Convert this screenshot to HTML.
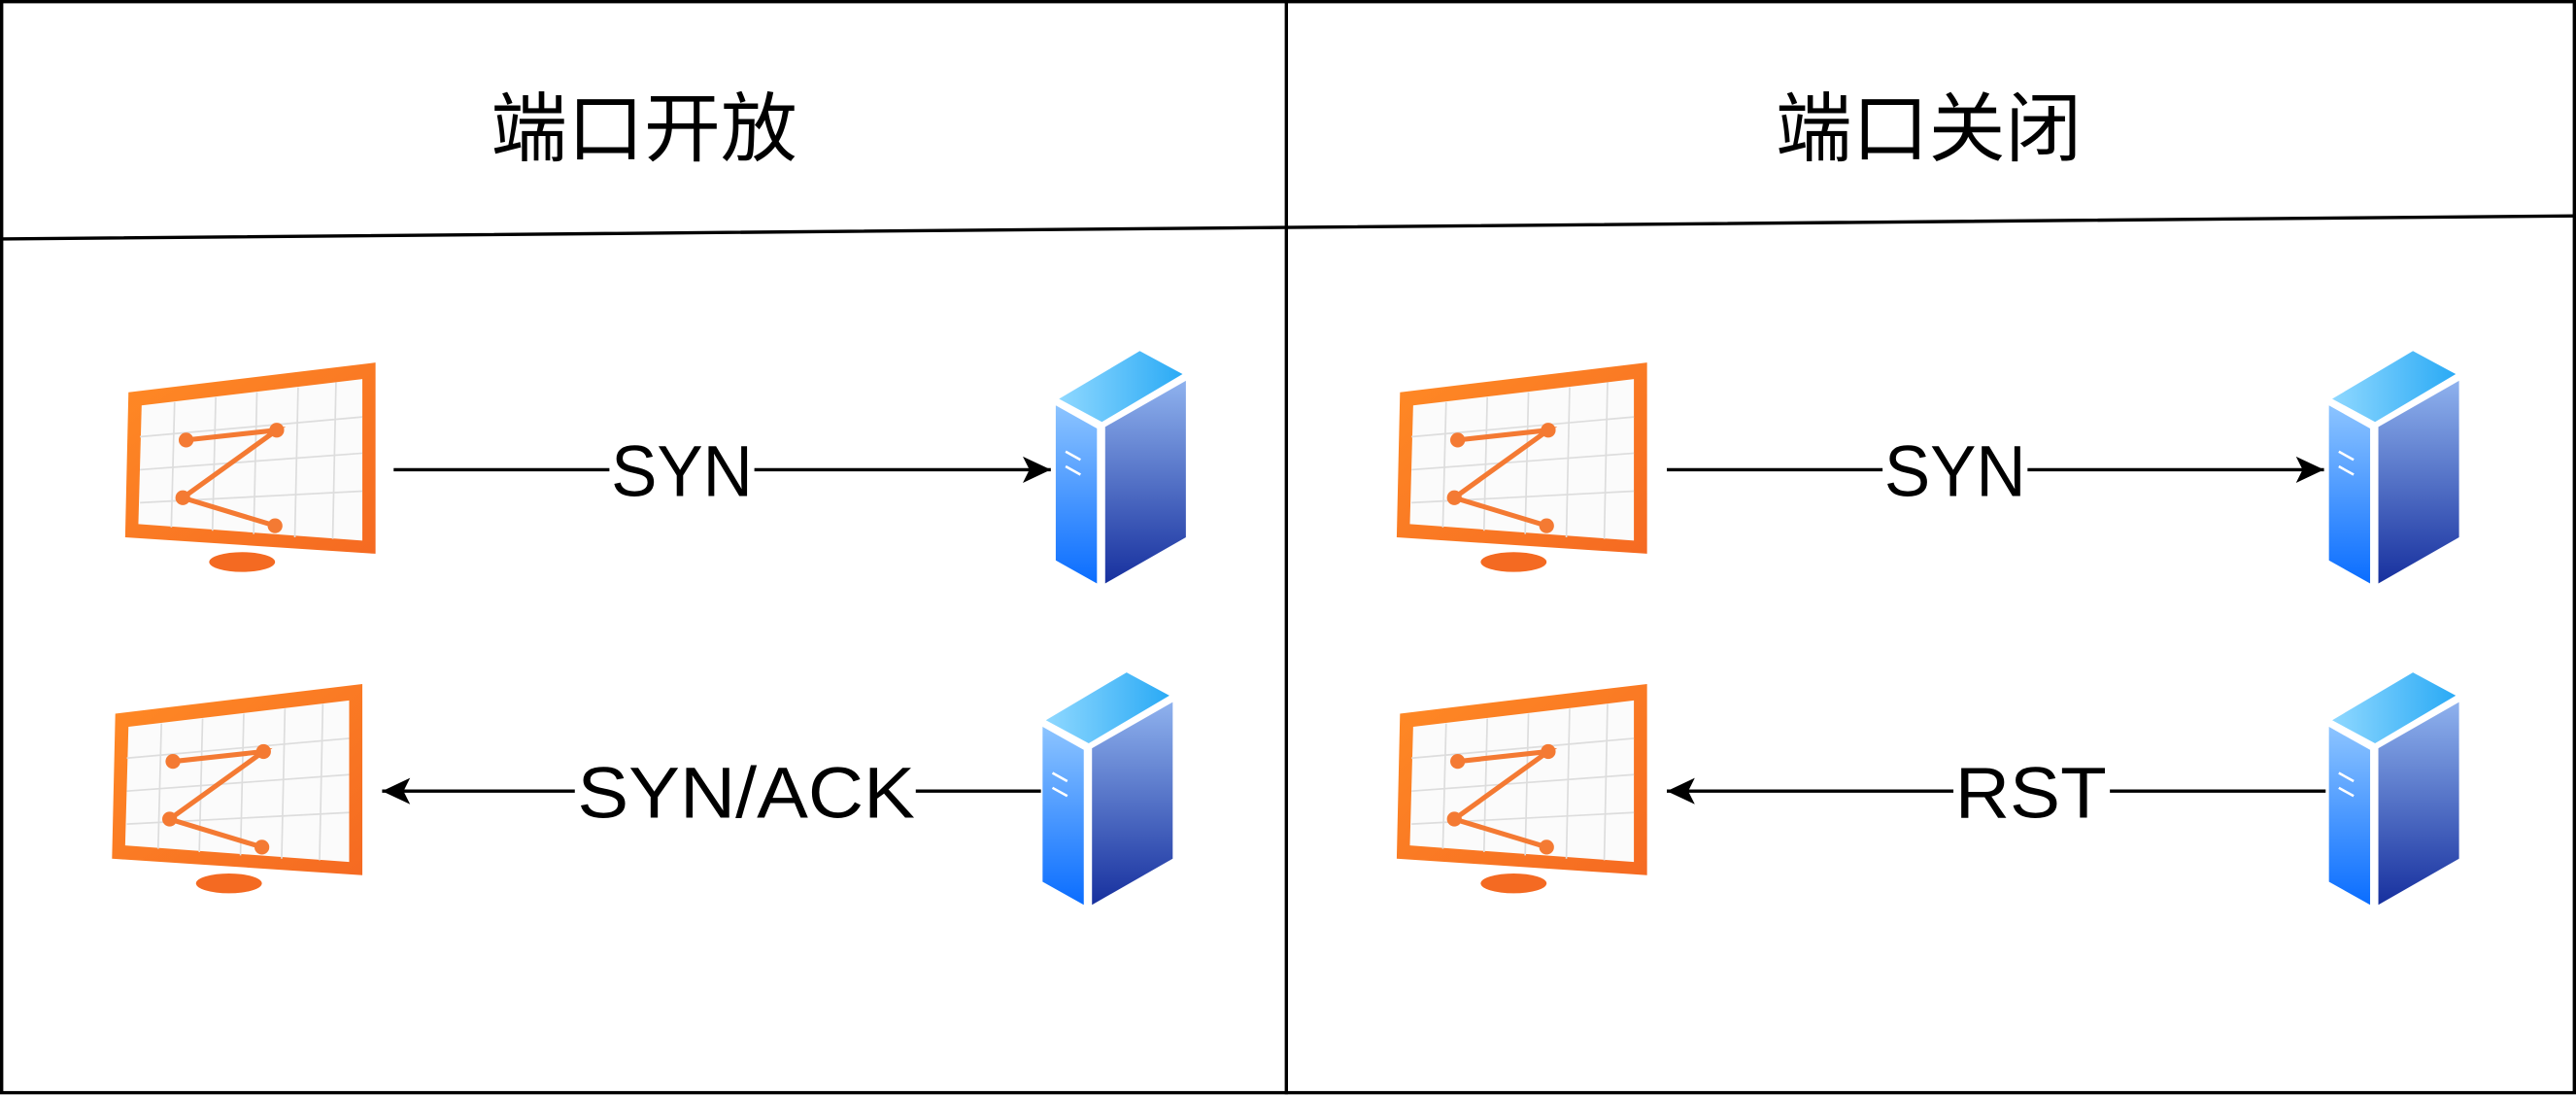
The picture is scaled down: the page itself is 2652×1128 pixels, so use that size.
<!DOCTYPE html>
<html><head><meta charset="utf-8"><style>
html,body{margin:0;padding:0;background:#fff;}
svg{display:block;}
text{font-family:"Liberation Sans","Noto Sans CJK SC",sans-serif;}
</style></head><body>
<svg width="2652" height="1128" viewBox="0 0 1564 665" preserveAspectRatio="none" xmlns="http://www.w3.org/2000/svg">
<defs>
<linearGradient id="gl" x1="0" y1="0" x2="0" y2="1"><stop offset="0" stop-color="#8cc4ff"/><stop offset="1" stop-color="#0a6dff"/></linearGradient>
<linearGradient id="gr" x1="0" y1="0" x2="0" y2="1"><stop offset="0" stop-color="#8fb2ee"/><stop offset="1" stop-color="#17309e"/></linearGradient>
<linearGradient id="gt" x1="0" y1="0" x2="1" y2="0"><stop offset="0" stop-color="#8fd8ff"/><stop offset="1" stop-color="#2aaaf5"/></linearGradient>
<linearGradient id="go" x1="0" y1="0" x2="1" y2="1"><stop offset="0" stop-color="#ff8a25"/><stop offset="1" stop-color="#f56a22"/></linearGradient>
<g id="mon">
<polygon points="2,18 152,0 152,116 0,106" fill="url(#go)"/>
<polygon points="10,26 144,10 144,108 8,98" fill="#fbfbfb"/>
<g stroke="#ddd" stroke-width="1" fill="none">
<path d="M30,24 L28,100 M55,21 L53,102 M80,18 L78,104 M105,15 L103,106 M128,12 L126,107"/>
<path d="M9,45 L144,33 M9,65 L144,55 M9,85 L144,78"/>
</g>
<polyline points="37,47 92,41 35,82 91,99" fill="none" stroke="#f47a33" stroke-width="3"/>
<g fill="#f47a33"><circle cx="37" cy="47" r="4.5"/><circle cx="92" cy="41" r="4.5"/><circle cx="35" cy="82" r="4.5"/><circle cx="91" cy="99" r="4.5"/></g>
<ellipse cx="71" cy="121" rx="20" ry="6" fill="#f46a22"/>
</g>
<g id="srv">
<polygon points="3,30 52,1 78,15 29,44" fill="url(#gt)"/>
<polygon points="1,34 26,48 26,142 1,128" fill="url(#gl)"/>
<polygon points="31,47 80,19 80,114 31,142" fill="url(#gr)"/>
<path d="M7,62 L16,67 M7,71 L16,76" stroke="#fff" stroke-width="1.5"/>
</g>
<marker id="ah" markerWidth="20" markerHeight="20" refX="19" refY="10" orient="auto" markerUnits="userSpaceOnUse"><path d="M2,2 L19,10 L2,18 L6,10 Z" fill="#000"/></marker>
</defs>
<rect x="1" y="1" width="1562" height="662" fill="none" stroke="#000" stroke-width="2"/>
<line x1="781" y1="0" x2="781" y2="664" stroke="#000" stroke-width="2"/>
<polyline points="0,145 781,138 1564,131" fill="none" stroke="#000" stroke-width="2"/>
<text x="391" y="94" font-size="46" text-anchor="middle" textLength="186" lengthAdjust="spacingAndGlyphs">端口开放</text>
<text x="1171" y="94" font-size="46" text-anchor="middle" textLength="186" lengthAdjust="spacingAndGlyphs">端口关闭</text>

<use href="#mon" x="76" y="220"/>
<use href="#mon" x="68" y="415"/>
<use href="#mon" x="848" y="220"/>
<use href="#mon" x="848" y="415"/>
<use href="#srv" x="640" y="212"/>
<use href="#srv" x="632" y="407"/>
<use href="#srv" x="1413" y="212"/>
<use href="#srv" x="1413" y="407"/>

<g stroke="#000" stroke-width="2" fill="none">
<line x1="239" y1="285" x2="638" y2="285" marker-end="url(#ah)"/>
<line x1="632" y1="480" x2="232" y2="480" marker-end="url(#ah)"/>
<line x1="1012" y1="285" x2="1411" y2="285" marker-end="url(#ah)"/>
<line x1="1412" y1="480" x2="1012" y2="480" marker-end="url(#ah)"/>
</g>
<g font-size="44" text-anchor="middle">
<rect x="370" y="262" width="88" height="44" fill="#fff"/>
<text x="414" y="301" textLength="86" lengthAdjust="spacingAndGlyphs">SYN</text>
<rect x="349" y="457" width="207" height="44" fill="#fff"/>
<text x="453" y="496" textLength="205" lengthAdjust="spacingAndGlyphs">SYN/ACK</text>
<rect x="1143" y="262" width="88" height="44" fill="#fff"/>
<text x="1187" y="301" textLength="86" lengthAdjust="spacingAndGlyphs">SYN</text>
<rect x="1186" y="457" width="95" height="44" fill="#fff"/>
<text x="1233" y="496" textLength="92" lengthAdjust="spacingAndGlyphs">RST</text>
</g>
</svg>
</body></html>
